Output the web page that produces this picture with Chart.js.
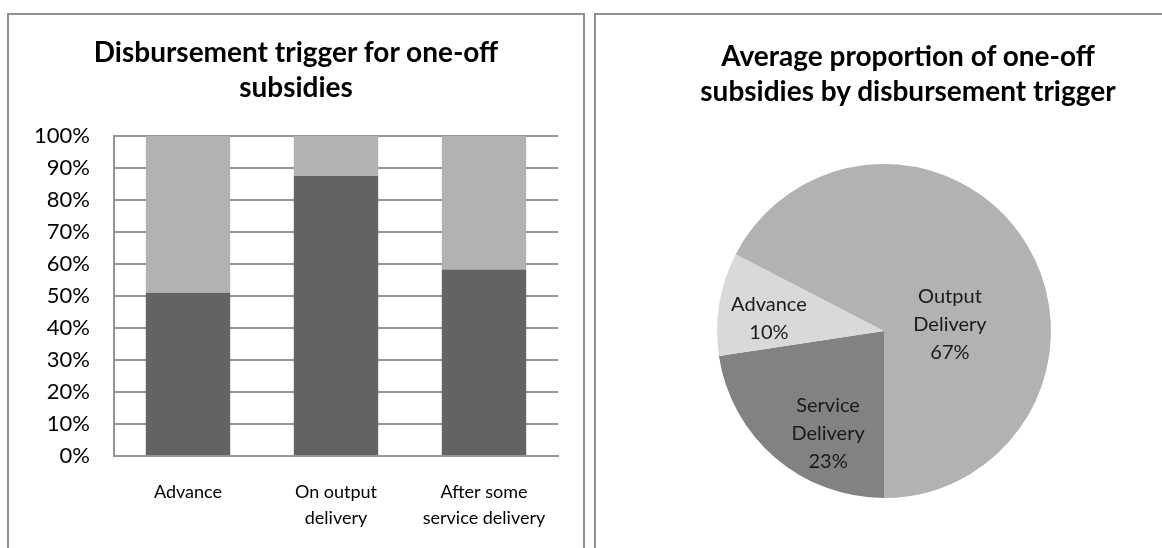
<!DOCTYPE html>
<html>
<head>
<meta charset="utf-8">
<script src="https://cdn.jsdelivr.net/npm/chart.js@4.4.0/dist/chart.umd.min.js"></script>
<style>
  html, body { margin: 0; padding: 0; background: #fff; overflow: hidden; }
  body { width: 1162px; height: 548px; position: relative; font-family: Lato, "Open Sans", sans-serif; }
  .panel { position: absolute; border: 2px solid #909090; box-sizing: border-box; }
  #leftPanel { left: 7px; top: 13px; width: 578px; height: 560px; }
  #rightPanel { left: 594px; top: 13px; width: 640px; height: 560px; }
  .title { position: absolute; text-align: center; font-weight: bold; font-size: 28px; line-height: 35px; color: #000; white-space: nowrap; }
  #leftTitle { left: 7px; width: 578px; top: 34px; }
  #rightTitle { left: 594px; width: 628px; top: 38px; }
  #barWrap { position: absolute; left: 9px; top: 15px; width: 574px; height: 533px; }
  #pieWrap { position: absolute; left: 596px; top: 15px; width: 624px; height: 533px; }
</style>
</head>
<body>
<div class="panel" id="leftPanel"></div>
<div class="panel" id="rightPanel"></div>
<div id="barWrap"><canvas id="barChart"></canvas></div>
<div id="pieWrap"><canvas id="pieChart"></canvas></div>
<div class="title" id="leftTitle">Disbursement trigger for one-off<br>subsidies</div>
<div class="title" id="rightTitle">Average proportion of one-off<br>subsidies by disbursement trigger</div>

<script>
// bar chart data (percent of subsidies per trigger)
var barCategories = ['Advance', ['On output', 'delivery'], ['After some', 'service delivery']];
var darkValues = [51, 87.5, 58.3];
var lightValues = [49, 12.5, 41.7];
var yTicks = [0, 10, 20, 30, 40, 50, 60, 70, 80, 90, 100];

// pie chart data (average proportion)
var pieLabels = [['Service', 'Delivery'], ['Advance'], ['Output', 'Delivery']];
var pieValues = [22.6, 10.0, 67.4];

var fontFamily = 'Lato, "Open Sans", sans-serif';
Chart.defaults.font.family = fontFamily;
Chart.defaults.color = '#000';

var barCtx = document.getElementById('barChart').getContext('2d');
new Chart(barCtx, {
    type: 'bar',
    data: {
        labels: barCategories,
        datasets: [{
            label: 'Dark',
            data: darkValues,
            backgroundColor: '#636363',
            borderWidth: 0,
            barPercentage: 0.57,
            categoryPercentage: 1
        }, {
            label: 'Light',
            data: lightValues,
            backgroundColor: '#b2b2b2',
            borderWidth: 0,
            barPercentage: 0.57,
            categoryPercentage: 1
        }]
    },
    options: {
        responsive: true,
        maintainAspectRatio: false,
        animation: false,
        layout: { padding: { left: 0, right: 25, top: 121, bottom: 0 } },
        plugins: {
            legend: { display: false },
            tooltip: { enabled: false },
            title: { display: false }
        },
        scales: {
            x: {
                stacked: true,
                grid: { display: false, drawTicks: false },
                border: { display: true, color: '#969696', width: 2 },
                ticks: { padding: 24, font: { size: 18, lineHeight: 1.4 }, maxRotation: 0, autoSkip: false },
                afterFit: function (scale) { scale.height = 92; }
            },
            y: {
                stacked: true,
                min: 0,
                max: 100,
                afterBuildTicks: function (scale) {
                    scale.ticks = yTicks.map(function (v) { return { value: v }; });
                },
                grid: { color: '#969696', lineWidth: 2, drawTicks: false },
                border: { display: true, color: '#969696', width: 2 },
                ticks: {
                    padding: 24,
                    font: { size: 22 },
                    callback: function (v) { return v + '%'; }
                },
                afterFit: function (scale) { scale.width = 105; }
            }
        }
    }
});

// draws the multi-line labels inside the pie slices
var sliceLabels = {
    id: 'sliceLabels',
    afterDatasetsDraw: function (chart, args, opts) {
        var ctx = chart.ctx;
        var meta = chart.getDatasetMeta(0);
        var total = pieValues.reduce(function (a, b) { return a + b; }, 0);
        ctx.save();
        ctx.fillStyle = '#1a1a1a';
        ctx.font = opts.size + 'px ' + fontFamily;
        ctx.textAlign = 'center';
        ctx.textBaseline = 'middle';
        meta.data.forEach(function (arc, i) {
            var lines = pieLabels[i].concat([Math.round(pieValues[i] / total * 100) + '%']);
            var a = opts.anchors[i];
            var cx = arc.x + a[0] * arc.outerRadius;
            var cy = arc.y + a[1] * arc.outerRadius;
            var startY = cy - (lines.length - 1) * opts.lineHeight / 2;
            lines.forEach(function (t, j) {
                ctx.fillText(t, cx, startY + j * opts.lineHeight);
            });
        });
        ctx.restore();
    }
};

var pieCtx = document.getElementById('pieChart').getContext('2d');
new Chart(pieCtx, {
    type: 'pie',
    data: {
        labels: pieLabels,
        datasets: [{
            data: pieValues,
            backgroundColor: ['#828282', '#d9d9d9', '#b2b2b2'],
            borderWidth: 0
        }]
    },
    options: {
        responsive: true,
        maintainAspectRatio: false,
        animation: false,
        rotation: 180,
        layout: { padding: { left: 121, right: 169, top: 149, bottom: 50 } },
        plugins: {
            legend: { display: false },
            tooltip: { enabled: false },
            title: { display: false },
            sliceLabels: {
                size: 20,
                lineHeight: 28,
                anchors: [[-0.335, 0.615], [-0.689, -0.075], [0.395, -0.036]]
            }
        }
    },
    plugins: [sliceLabels]
});
</script>
</body>
</html>
